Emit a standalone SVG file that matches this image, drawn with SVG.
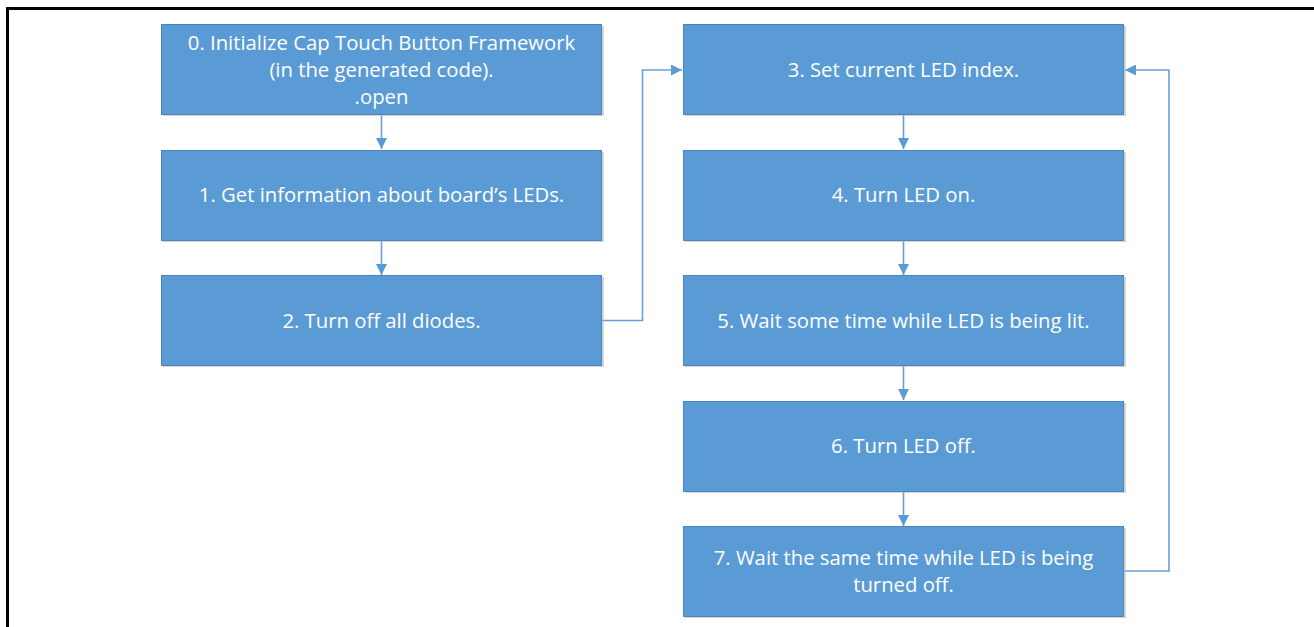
<svg xmlns="http://www.w3.org/2000/svg" width="1314" height="627" viewBox="0 0 1314 627">
<style>
.box{fill:#5B9BD5;stroke:#4A85BD;stroke-width:1}
.sh{fill:#b8b8b8;opacity:0.6}
.t{font-family:"Open Sans","Liberation Sans",sans-serif;font-size:20.3px;fill:#ffffff;text-anchor:middle}
.c{fill:none;stroke:#6A9FD6;stroke-width:1.6}
</style>
<defs>
<marker id="ah2" viewBox="0 0 10 10" refX="10" refY="5" markerWidth="11" markerHeight="11" markerUnits="userSpaceOnUse" orient="auto">
<path d="M0,0 L10,5 L0,10 z" fill="#5B9BD5"/>
</marker>
</defs>
<rect x="0" y="0" width="1314" height="627" fill="#ffffff"/>
<path d="M7.5,627 V8.5 H1314" fill="none" stroke="#000" stroke-width="3"/>
<g id="connectors">
<line class="c" x1="381.5" y1="115" x2="381.5" y2="149" marker-end="url(#ah2)"/>
<line class="c" x1="381.5" y1="241" x2="381.5" y2="275" marker-end="url(#ah2)"/>
<line class="c" x1="903.5" y1="115" x2="903.5" y2="149" marker-end="url(#ah2)"/>
<line class="c" x1="903.5" y1="241" x2="903.5" y2="275" marker-end="url(#ah2)"/>
<line class="c" x1="903.5" y1="366" x2="903.5" y2="400" marker-end="url(#ah2)"/>
<line class="c" x1="903.5" y1="492" x2="903.5" y2="526" marker-end="url(#ah2)"/>
<polyline class="c" points="602,320.5 642.5,320.5 642.5,70 682,70" marker-end="url(#ah2)"/>
<polyline class="c" points="1124,571 1169,571 1169,70 1125,70" marker-end="url(#ah2)"/>
</g>
<g id="n0"><rect class="sh" x="163" y="26" width="441" height="90"/><rect class="box" x="161.5" y="24.5" width="440" height="90"/>
<text class="t" x="381.5" y="50">0. Initialize Cap Touch Button Framework</text>
<text class="t" x="381.5" y="77">(in the generated code).</text>
<text class="t" x="381.5" y="104">.open</text></g>
<g id="n1"><rect class="sh" x="163" y="152" width="441" height="90"/><rect class="box" x="161.5" y="150.5" width="440" height="90"/>
<text class="t" x="381.5" y="202">1. Get information about board’s LEDs.</text></g>
<g id="n2"><rect class="sh" x="163" y="277" width="441" height="90"/><rect class="box" x="161.5" y="275.5" width="440" height="90"/>
<text class="t" x="381.5" y="328">2. Turn off all diodes.</text></g>
<g id="n3"><rect class="sh" x="685" y="26" width="441" height="90"/><rect class="box" x="683.5" y="24.5" width="440" height="90"/>
<text class="t" x="903.5" y="77">3. Set current LED index.</text></g>
<g id="n4"><rect class="sh" x="685" y="152" width="441" height="90"/><rect class="box" x="683.5" y="150.5" width="440" height="90"/>
<text class="t" x="903.5" y="202">4. Turn LED on.</text></g>
<g id="n5"><rect class="sh" x="685" y="277" width="441" height="90"/><rect class="box" x="683.5" y="275.5" width="440" height="90"/>
<text class="t" x="903.5" y="328">5. Wait some time while LED is being lit.</text></g>
<g id="n6"><rect class="sh" x="685" y="403" width="441" height="90"/><rect class="box" x="683.5" y="401.5" width="440" height="90"/>
<text class="t" x="903.5" y="453">6. Turn LED off.</text></g>
<g id="n7"><rect class="sh" x="685" y="528" width="441" height="90"/><rect class="box" x="683.5" y="526.5" width="440" height="90"/>
<text class="t" x="903.5" y="565">7. Wait the same time while LED is being</text>
<text class="t" x="903.5" y="592">turned off.</text></g>
</svg>
